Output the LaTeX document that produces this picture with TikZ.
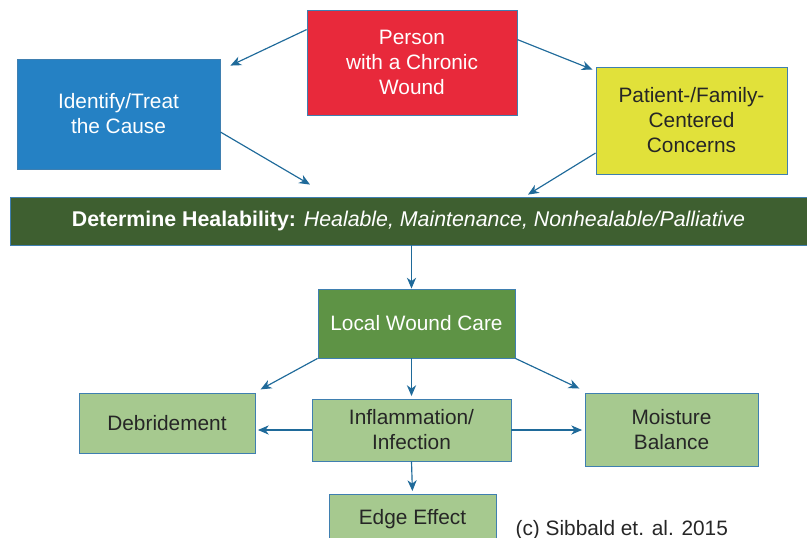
\documentclass[tikz,border=0pt]{standalone}
\usepackage{fontspec}
\setmainfont{Liberation Sans}
\usepackage{tikz}
\usetikzlibrary{arrows.meta,calc,positioning}

\definecolor{woundred}{HTML}{E8293B}
\definecolor{causeblue}{HTML}{2581C4}
\definecolor{concernyellow}{HTML}{E1E13A}
\definecolor{healgreen}{HTML}{3E5F30}
\definecolor{localgreen}{HTML}{5E9345}
\definecolor{carelight}{HTML}{A6C98F}
\definecolor{edgeblue}{HTML}{3F7FB0}
\definecolor{arrowblue}{HTML}{1F6A9A}

\begin{document}
\begin{tikzpicture}[x=0.6pt,y=-0.6pt,->,>={Stealth[length=6.5pt,width=5.5pt,inset=2pt]},
										line width=0.7pt,font=\fontsize{12.5}{15}\selectfont]
	\tikzstyle{every node}=[align=center,inner sep=0pt]
	\tikzstyle{box}=[draw=edgeblue,line width=0.5pt,rectangle]
	\tikzstyle{carebox}=[box,fill=carelight,text=black!85]
	\tikzstyle{link}=[color=arrowblue]

	\clip (0,0) rectangle (807,538);

	\node[box,fill=woundred,text=white,minimum width=126pt,minimum height=63pt]
		(person) at (412,62.5) {Person\\with a Chronic\\Wound};
	\node[box,fill=causeblue,text=white,minimum width=121.8pt,minimum height=66pt]
		(cause) at (118.5,114) {Identify/Treat\\the Cause};
	\node[box,fill=concernyellow,text=black!85,minimum width=114.6pt,minimum height=64.2pt]
		(concerns) at (691.5,120.5) {Patient-/Family-\\Centered\\Concerns};
	\node[box,fill=healgreen,text=white,minimum width=478.2pt,minimum height=28.8pt]
		(heal) at (408.5,221) {\fontsize{12.8}{15}\selectfont\textbf{Determine Healability:} \textit{Healable, Maintenance, Nonhealable/Palliative}};

	\node[box,fill=localgreen,text=white,minimum width=118.2pt,minimum height=41.4pt]
		(local) at (416.5,323.5) {Local Wound Care};
	\node[carebox,minimum width=105.6pt,minimum height=36pt]
		(debride) at (167,423) {Debridement};
	\node[carebox,minimum width=119.4pt,minimum height=37.2pt]
		(inflam) at (411.5,430) {Inflammation/\\Infection};
	\node[carebox,minimum width=103.8pt,minimum height=43.8pt]
		(moisture) at (671.5,429.5) {Moisture\\Balance};
	\node[carebox,minimum width=100.2pt,minimum height=30pt]
		(edgefx) at (412.5,519) {Edge Effect};

	\node[anchor=base west,text=black!85] (credit) at (515,535) {(c) Sibbald et. al. 2015};

	% top level
	\path[link] ($(person.north west)+(0,20)$) edge ($(cause.north east)+(10,7)$)
				($(person.north east)+(0,30)$) edge ($(concerns.north west)+(-3,3)$)
				($(cause.east)+(0,18)$) edge ($(heal.north)+(-98.5,-12)$)
				($(concerns.west)+(0,32.5)$) edge ($(heal.north)+(119.5,-2)$)
				(heal.south -| inflam.north) edge (local.north -| inflam.north);

	% local wound care
	\path[link,shorten >=1.5pt] (local.south west) edge ($(debride.north east)+(3,-2)$)
				(local.south -| inflam.north) edge (inflam.north)
				(local.south east) edge ($(moisture.north west)+(-3,-3)$)
				(inflam.west) edge (inflam.west -| debride.east)
				(inflam.east) edge (inflam.east -| moisture.west)
				(inflam.south) edge (edgefx.north);
\end{tikzpicture}
\end{document}
